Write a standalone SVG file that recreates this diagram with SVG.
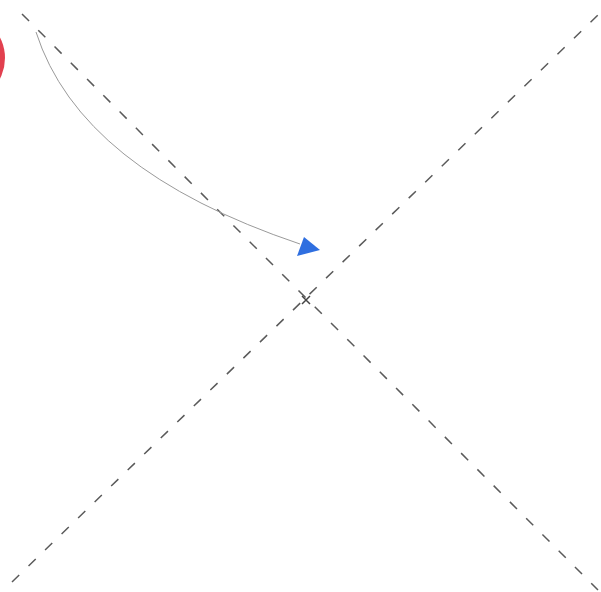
<svg xmlns="http://www.w3.org/2000/svg" width="601" height="592" viewBox="0 0 601 592">
<style>
.axis{stroke:#5a5a5a;stroke-width:1.5;stroke-dasharray:10 13;fill:none}
.curve{stroke:#9a9a9a;stroke-width:1;fill:none}
</style>
<rect width="601" height="592" fill="#ffffff"/>
<g id="red-node"><circle cx="-40" cy="58" r="45" fill="#e2404f"/></g>
<g id="connectors">
<line class="axis" x1="22" y1="14" x2="598" y2="590"/>
<line class="axis" x1="12" y1="582" x2="598" y2="15"/>
<path class="curve" d="M36,32 Q80,170 300,244"/>
<polygon points="320,250 304,237 297,256" fill="#2f6fe0"/>
</g>
<g id="center"><path d="M302,296 L310,304 M310,296 L302,304" stroke="#444" stroke-width="1.5"/></g>
</svg>
